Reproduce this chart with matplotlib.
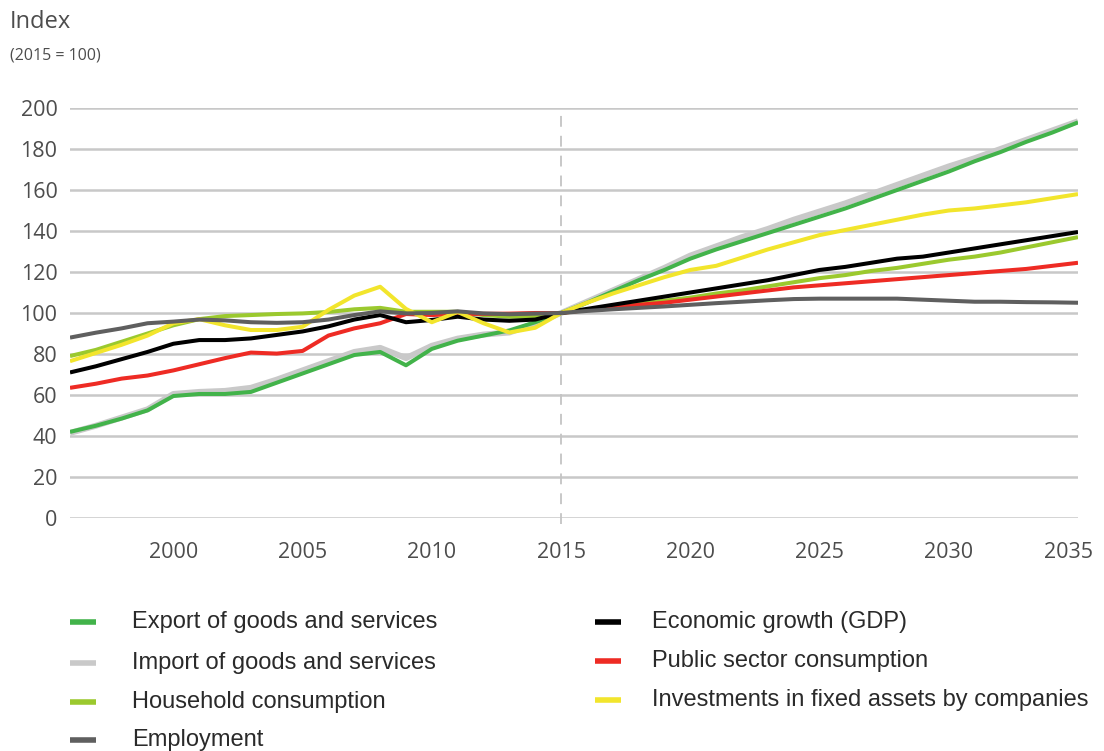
import matplotlib
matplotlib.use("Agg")
import matplotlib.pyplot as plt
from matplotlib.lines import Line2D
from matplotlib.transforms import ScaledTranslation

years = list(range(1996, 2036))

export = [42, 45, 48.5, 52.5, 59.5, 60.5, 60.5, 61.5, 66, 70.5, 75, 79.5, 81, 74.5, 82.5, 86.5, 89, 91.5, 95.5, 100,
          105, 110.5, 116, 121, 126.5, 131, 135, 139, 143, 147, 151, 155.5, 160, 164.5, 169, 174, 178.5, 183.5, 188, 193]
imports = [41.5, 45, 49, 53, 60.5, 61.5, 62, 63.5, 67.5, 72, 76.5, 81, 83, 78, 84, 87.5, 89.5, 90.5, 95, 100,
           105.5, 111, 116.5, 122, 128, 132.5, 137, 141, 145.5, 149.5, 153.5, 158, 162.5, 167, 171.5, 175.5, 180, 184.5, 189, 193.5]
household = [79, 82, 86, 90, 94, 97, 98.5, 99, 99.5, 99.8, 100.5, 101.8, 102.5, 100.6, 100.6, 100.6, 99, 98.2, 98.2, 100,
             101.5, 103, 104.5, 106, 107.5, 109.5, 111, 113, 115, 117, 118.5, 120.5, 122, 124, 126, 127.5, 129.5, 132, 134.5, 137]
employment = [88, 90.4, 92.5, 95, 95.8, 96.8, 96.4, 95.5, 95.2, 95.5, 96.8, 99, 100.8, 99.8, 100, 100.8, 99.8, 99.4, 99.7, 100,
              101, 101.8, 102.5, 103.2, 104, 104.8, 105.5, 106.2, 106.8, 107, 107, 107, 107, 106.5, 106, 105.5, 105.5, 105.3, 105.2, 105]
gdp = [71, 74, 77.5, 81, 85, 86.8, 86.8, 87.6, 89.3, 91, 93.5, 96.8, 99, 95.5, 96.6, 98.2, 96.8, 96.2, 96.8, 100,
       102, 104, 106, 108, 110, 112, 114, 116, 118.5, 121, 122.5, 124.5, 126.5, 127.5, 129.5, 131.5, 133.5, 135.5, 137.5, 139.5]
public = [63.5, 65.5, 68, 69.5, 72, 75, 78, 80.7, 80.2, 81.5, 89, 92.5, 95, 99.5, 99, 99.5, 99.6, 99.7, 100, 100,
          101.5, 102.5, 104, 105, 106.5, 108, 109.5, 111, 112.5, 113.5, 114.5, 115.5, 116.5, 117.5, 118.5, 119.5, 120.5, 121.5, 123, 124.5]
investment = [76.5, 80.5, 84.5, 89, 95, 97, 94, 91.7, 91.7, 93.3, 101.5, 108.5, 112.8, 102, 95.5, 100.5, 95, 90.5, 92.8, 100,
              105, 109.5, 113.5, 117.5, 121, 123, 127, 131, 134.5, 138, 140.5, 143, 145.5, 148, 150, 151, 152.5, 154, 156, 158]

series_labels = ["Export of goods and services", "Import of goods and services", "Household consumption",
                 "Employment", "Economic growth (GDP)", "Public sector consumption",
                 "Investments in fixed assets by companies"]
series_colors = ["#42b34a", "#c9c9c9", "#9bc92e", "#5f5f5f", "#000000", "#ee2b24", "#f2e52c"]

y_ticks = list(range(0, 201, 20))
x_ticks = list(range(2000, 2036, 5))
base_year = 2015

text_col = "#4d4d4d"
tick_font = ["Open Sans", "DejaVu Sans"]
legend_font = ["Liberation Sans Narrow", "Liberation Sans", "DejaVu Sans"]

fig = plt.figure(figsize=(11.04, 7.51), dpi=100)
ax = fig.add_axes([70 / 1104, 1 - 518 / 751, (1078 - 70) / 1104, (518 - 108) / 751])

for y in y_ticks:
    ax.axhline(y, color="#c8c8c8", lw=1.8, zorder=1)

ax.plot([base_year, base_year], [-3, 200], color="#c4c4c4", lw=1.3,
        dashes=(6, 5), zorder=1.5, clip_on=False)

data = [export, imports, household, employment, gdp, public, investment]
widths = [2.9, 4.3, 2.9, 2.9, 2.9, 2.9, 2.9]
order = [1, 0, 3, 2, 5, 4, 6]
zorders = {1: 2, 0: 3, 2: 4, 5: 5, 4: 6, 6: 7, 3: 8}
for i in order:
    ax.plot(years, data[i], color=series_colors[i], lw=widths[i],
            solid_joinstyle="round", solid_capstyle="butt", zorder=zorders[i])

ax.set_xlim(1996, 2035)
ax.set_ylim(0, 200)
for s in ax.spines.values():
    s.set_visible(False)

ax.set_yticks(y_ticks)
ax.set_yticklabels([str(v) for v in y_ticks], fontfamily=tick_font, fontsize=15.5, color=text_col)
ax.set_xticks(x_ticks)
ax.set_xticklabels([str(v) for v in x_ticks], fontfamily=tick_font, fontsize=15.5, color=text_col)
ax.tick_params(axis="both", length=0)
ax.tick_params(axis="y", pad=9)
ax.tick_params(axis="x", pad=17)
last = ax.get_xticklabels()[-1]
last.set_transform(last.get_transform() + ScaledTranslation(-0.10, 0, fig.dpi_scale_trans))

fig.text(10 / 1104, 1 - 22 / 751, "Index", fontfamily=tick_font, fontsize=17,
         color=text_col, va="center", ha="left")
fig.text(10 / 1104, 1 - 55 / 751, "(2015 = 100)", fontfamily=tick_font, fontsize=11.5,
         color=text_col, va="center", ha="left")

# legend: two columns, handles drawn as short thick strokes
col_x = [(70, 132), (595, 652)]
rows_y = [[622, 663, 702, 740], [622, 661, 700]]
idx = 0
for c, ys in enumerate(rows_y):
    hx, tx = col_x[c]
    for yy in ys:
        yf = 1 - yy / 751
        fig.add_artist(Line2D([hx / 1104, (hx + 26) / 1104], [yf, yf],
                              color=series_colors[idx], lw=4, solid_capstyle="butt"))
        fig.text(tx / 1104, yf, series_labels[idx], fontfamily=legend_font,
                 fontsize=17, color="#2a2a2a", va="center", ha="left")
        idx += 1

fig.savefig("out.png", dpi=100, facecolor="white")
